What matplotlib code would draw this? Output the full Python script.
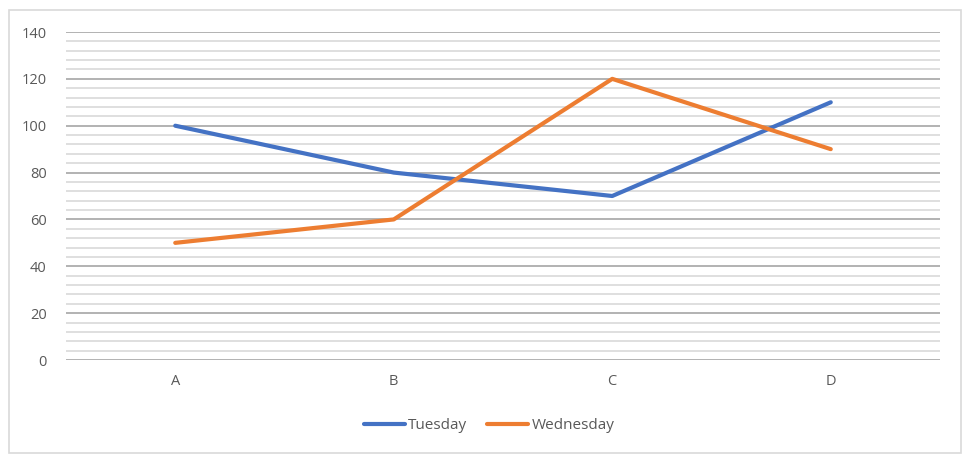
import matplotlib
matplotlib.use("Agg")
import matplotlib.pyplot as plt
from matplotlib.patches import Rectangle
from matplotlib.ticker import MultipleLocator
import numpy as np

categories = ["A", "B", "C", "D"]
tuesday = [100, 80, 70, 110]
wednesday = [50, 60, 120, 90]

plt.rcParams['font.family'] = ['Open Sans', 'DejaVu Sans']

fig = plt.figure(figsize=(9.7, 4.63), dpi=100)
fig.patches.append(Rectangle((9 / 970, 1 - 453 / 463), 952 / 970, 443 / 463,
                             transform=fig.transFigure, fill=False,
                             edgecolor="#d9d9d9", linewidth=1.2))

ax = fig.add_axes([66 / 970, 1 - 360 / 463, 874 / 970, 328 / 463])
x = np.arange(len(categories)) + 0.5

ax.plot(x, tuesday, color="#4472C4", linewidth=3, label="Tuesday",
        solid_capstyle="round", zorder=3)
ax.plot(x, wednesday, color="#ED7D31", linewidth=3, label="Wednesday",
        solid_capstyle="round", zorder=3)

ax.set_xlim(0, len(categories))
ax.set_ylim(0, 140)
ax.yaxis.set_major_locator(MultipleLocator(20))
ax.yaxis.set_minor_locator(MultipleLocator(4))
ax.set_xticks(x)
ax.set_xticklabels(categories)
ax.grid(which="major", axis="y", color="#a6a6a6", linewidth=1.2)
ax.grid(which="minor", axis="y", color="#d9d9d9", linewidth=1.2)
ax.set_axisbelow(True)
for s in ax.spines.values():
    s.set_visible(False)
ax.tick_params(axis="both", which="both", length=0, labelsize=10.5,
               labelcolor="#595959")
ax.tick_params(axis="y", pad=14)
ax.tick_params(axis="x", pad=10)

ax.legend(loc="upper center", bbox_to_anchor=(0.484, -0.135), ncol=2,
          frameon=False, fontsize=11, labelcolor="#595959",
          handlelength=2.7, handletextpad=0.2, columnspacing=1.3)

fig.savefig("out.png", dpi=100)
